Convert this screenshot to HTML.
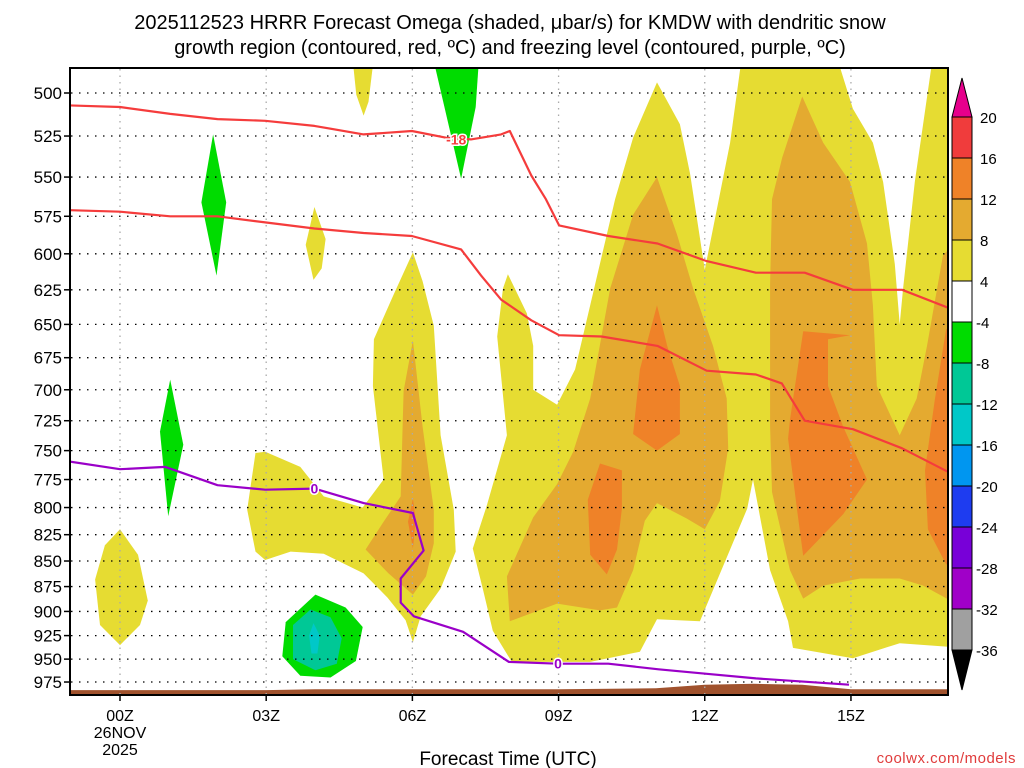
<!DOCTYPE html>
<html><head><meta charset="utf-8">
<style>
html,body{margin:0;padding:0;background:#fff;}
svg{display:block;font-family:"Liberation Sans",sans-serif;}
</style></head>
<body>
<svg id="chart" width="1024" height="768" viewBox="0 0 1024 768" xmlns="http://www.w3.org/2000/svg">
<rect width="1024" height="768" fill="#fff"/>
<text x="510" y="29" font-size="20" text-anchor="middle" fill="#000">2025112523 HRRR Forecast Omega (shaded, μbar/s) for KMDW with dendritic snow</text>
<text x="510" y="54" font-size="20" text-anchor="middle" fill="#000">growth region (contoured, red, ºC) and freezing level (contoured, purple, ºC)</text>
<defs><clipPath id="plotclip"><rect x="70" y="68" width="878" height="627"/></clipPath></defs>
<g id="fills" clip-path="url(#plotclip)"></g>
<g id="grid"></g>
<g id="lines" clip-path="url(#plotclip)"></g>
<rect x="70" y="68" width="878" height="627" fill="none" stroke="#000" stroke-width="2"/>
<g id="axes"></g>
<g id="cbar"></g>
<text x="508" y="765" font-size="19" text-anchor="middle">Forecast Time (UTC)</text>
<text x="1016" y="763" font-size="15" text-anchor="end" fill="#e03c3c" letter-spacing="0.5">coolwx.com/models</text>
</svg>
<script>
// ---- data ----
const xTickHours = [0,3,6,9,12,15];
const xTickLabels = ["00Z","03Z","06Z","09Z","12Z","15Z"];
const yLevels = [500,525,550,575,600,625,650,675,700,725,750,775,800,825,850,875,900,925,950,975];
const cbarLevels = [20,16,12,8,4,-4,-8,-12,-16,-20,-24,-28,-32,-36];
const cbarColors = ["#f03c3c","#ef8228","#e4aa30","#e6dc32","#ffffff","#00dc00","#00c896","#00c8c8","#0096f0","#1e3cf0","#7800d8","#a000c8","#a0a0a0"];
const shadeYellow = [
 [[7.96,614],[8.35,642],[8.48,666],[8.48,700],[8.97,712],[9.34,684],[9.65,636],[10.16,564],[10.53,526],[11.02,494],[11.49,518],[11.70,548],[12.0,611],[12.52,529],[12.76,480],[14.71,480],[15.04,509],[15.45,529],[15.66,553],[15.9,607],[16.0,650],[16.07,624],[16.31,553],[16.68,480],[17.3,480],[17.3,938],[16.0,933],[15.04,949],[13.81,938],[13.71,910],[13.34,859],[12.99,775],[12.87,801],[12.52,839],[11.9,910],[11.02,908],[10.67,942],[9.65,953],[8.04,953],[7.65,920],[7.45,878],[7.24,838],[7.53,798],[7.94,737],[7.74,659],[7.86,624]],
 [[2.61,802],[2.78,752],[2.98,751],[3.70,764],[4.18,790],[4.98,800],[5.41,775],[5.19,697],[5.21,661],[5.62,628],[6.01,599],[6.21,619],[6.44,651],[6.58,737],[6.85,802],[6.89,841],[6.58,877],[6.17,905],[6.01,932],[5.86,909],[5.49,886],[5.00,862],[4.18,843],[3.50,841],[2.98,849],[2.78,841]],
 [[0,820],[0.37,844],[0.57,889],[0.41,914],[0,935],[-0.41,914],[-0.51,868],[-0.31,835]],
 [[4.77,480],[5.21,480],[5.1,505],[5.0,513],[4.85,501]],
 [[3.99,569],[4.22,590],[4.14,610],[3.97,618],[3.81,594]]
];
const shadeLtOrange = [
 [[7.94,865],[8.48,809],[8.97,779],[9.30,751],[9.65,707],[10.06,624],[10.53,574],[11.02,550],[11.43,587],[11.76,624],[12.17,666],[12.45,707],[12.48,748],[12.31,794],[12.0,820],[11.63,810],[11.02,796],[10.77,812],[10.53,859],[10.20,896],[9.85,899],[8.97,892],[8.0,910]],
 [[13.38,564],[13.59,538],[14.0,502],[14.43,529],[14.98,553],[15.33,593],[15.45,636],[15.53,697],[16.0,737],[16.35,707],[16.56,666],[16.89,601],[17.3,587],[17.3,896],[16.48,874],[16.0,867],[15.19,867],[14.43,874],[14.02,887],[13.75,859],[13.38,786],[13.34,730],[13.34,621]],
 [[6.01,662],[6.21,730],[6.44,802],[6.44,833],[6.28,865],[6.01,883],[5.51,862],[5.04,839],[5.41,813],[5.76,790],[5.82,701]]
];
const shadeOrange = [
 [[11.02,636],[11.23,666],[11.49,697],[11.49,736],[11.02,750],[10.53,736],[10.67,684]],
 [[9.85,761],[10.30,767],[10.30,801],[10.20,839],[9.99,863],[9.65,844],[9.60,793]],
 [[14.02,655],[14.98,658],[14.53,661],[14.53,697],[14.84,730],[15.33,775],[14.84,806],[14.02,845],[13.89,801],[13.71,740],[13.75,724]],
 [[17.3,640],[16.95,654],[16.72,708],[16.52,767],[16.58,820],[16.95,853],[17.3,860]],
 [[6.01,792],[6.07,811],[6.01,838],[5.91,813]]
];
const shadeGreen = [
 [[4.01,883],[4.63,896],[4.98,916],[4.84,952],[4.32,970],[3.70,968],[3.33,947],[3.40,911]],
 [[6.42,480],[7.37,480],[7.3,508],[7.0,551]],
 [[1.91,524],[2.18,566],[1.98,615],[1.67,566]],
 [[1.03,692],[1.30,745],[0.99,808],[0.82,734]]
];
const shadeTeal = [[[3.91,898],[4.32,906],[4.55,928],[4.45,955],[4.01,962],[3.55,950],[3.55,914]]];
const shadeCyan = [[[3.97,912],[4.10,925],[4.05,944],[3.93,944],[3.88,925]]];
const dgzUpperHours = [-1.1,0,1.03,2,2.98,3.99,5,5.99,6.69,7.2,7.82,8.0,8.44,8.74,9.01,10.02,11.03,12.04,13.05,14.05,15.04,16.05,17.3];
const dgzUpperP = [507,508,512,515,516,519,524,522,526,527,524,522,549,564,581,588,593,605,613,613,625,625,642];
const dgzLowerHours = [-1.1,0,1.03,2,2.98,3.99,5,5.99,7,7.41,7.82,8.44,9.01,9.88,11.03,12.04,13.05,13.58,14.05,15.04,16.05,17.3];
const dgzLowerP = [571,572,575,575,579,583,586,588,597,615,632,647,658,659,666,685,688,695,725,732,748,775];
const frzHours = [-1.1,0,0.93,2,2.98,3.99,5,6.01,6.23,5.76,5.76,6.03,7.04,7.98,8.99,10.02,11.05,12.04,13.05,14.96];
const frzP = [759,766,764,780,784,783,796,805,840,867,891,905,921,953,955,955,961,966,971,978];
const sfcHours = [-1.1,3,4,9,11,12,13,14,15,17.3];
const sfcP = [984,984,983,983,982,978,977,978,983,983];

// ---- scales ----
const X = h => 120 + h*48.73;
const Y = p => 93 + 882*Math.log(p/500);
const NS = "http://www.w3.org/2000/svg";
function mk(tag, parent){ const e=document.createElementNS(NS,tag); parent.appendChild(e); return e; }

const fills = document.getElementById('fills');
function drawSet(set, color, name){
  set.forEach(poly=>{
    const e = mk('polygon', fills);
    e.setAttribute('points', poly.map(q=>X(q[0]).toFixed(1)+','+Y(q[1]).toFixed(1)).join(' '));
    e.setAttribute('fill', color);
    
    
  });
}
drawSet(shadeYellow, cbarColors[3], 'omega-4-8-region');
drawSet(shadeLtOrange, cbarColors[2], 'omega-8-12-region');
drawSet(shadeOrange, cbarColors[1], 'omega-12-16-region');
drawSet(shadeGreen, cbarColors[5], 'omega-neg4-neg8-region');
drawSet(shadeTeal, cbarColors[6], 'omega-neg8-neg12-region');
drawSet(shadeCyan, cbarColors[7], 'omega-neg12-neg16-region');
// surface
{
  const pts = sfcHours.map((h,i)=>X(h).toFixed(1)+','+Y(sfcP[i]).toFixed(1));
  pts.push(X(17.3)+','+700, X(-1.1)+','+700);
  const e = mk('polygon', fills);
  e.setAttribute('points', pts.join(' '));
  e.setAttribute('fill', '#a0522d');
  
  
}

// grid
const grid = document.getElementById('grid');
yLevels.forEach(p=>{
  const l = mk('line', grid);
  l.setAttribute('x1',71); l.setAttribute('x2',947);
  l.setAttribute('y1',Y(p)); l.setAttribute('y2',Y(p));
  l.setAttribute('stroke','#000'); l.setAttribute('stroke-width','1.3');
  l.setAttribute('stroke-dasharray','1.5,6.5');
  
  
});
xTickHours.forEach(h=>{
  const l = mk('line', grid);
  l.setAttribute('x1',X(h)); l.setAttribute('x2',X(h));
  l.setAttribute('y1',69); l.setAttribute('y2',694);
  l.setAttribute('stroke','#aaa'); l.setAttribute('stroke-width','1.3');
  l.setAttribute('stroke-dasharray','1.5,5');
  
  
});

// lines
const lines = document.getElementById('lines');
function drawLine(hs, ps, color, name){
  const e = mk('polyline', lines);
  e.setAttribute('points', hs.map((h,i)=>X(h).toFixed(1)+','+Y(ps[i]).toFixed(1)).join(' '));
  e.setAttribute('fill','none'); e.setAttribute('stroke',color); e.setAttribute('stroke-width','2.2');
  e.setAttribute('stroke-linejoin','round');
  
  
}
drawLine(dgzUpperHours, dgzUpperP, '#f53c3c', 'dgz-minus18-contour');
drawLine(dgzLowerHours, dgzLowerP, '#f53c3c', 'dgz-minus12-contour');
drawLine(frzHours, frzP, '#9a00c8', 'freezing-level-contour');
function label(h,p,txt,color,name){
  const t = mk('text', lines);
  t.setAttribute('x', X(h)); t.setAttribute('y', Y(p)+5);
  t.setAttribute('text-anchor','middle'); t.setAttribute('font-size','14'); t.setAttribute('font-weight','bold');
  t.setAttribute('fill', color); t.setAttribute('stroke','#fff'); t.setAttribute('stroke-width','3'); t.setAttribute('paint-order','stroke');
  t.textContent = txt;
  
  
}
label(6.9,527,'-18','#f53c3c','dgz-contour-label');
label(3.99,783,'0','#9a00c8','freezing-level-label');
label(8.99,955,'0','#9a00c8','freezing-level-label');

// axes
const axes = document.getElementById('axes');
yLevels.forEach(p=>{
  const t = mk('text', axes);
  t.setAttribute('x', 62); t.setAttribute('y', Y(p)+6);
  t.setAttribute('text-anchor','end'); t.setAttribute('font-size','17');
  t.textContent = String(p);
  
  
  const l = mk('line', axes);
  l.setAttribute('x1',64); l.setAttribute('x2',70); l.setAttribute('y1',Y(p)); l.setAttribute('y2',Y(p));
  l.setAttribute('stroke','#000'); l.setAttribute('stroke-width','1.5');
});
xTickHours.forEach((h,i)=>{
  const l = mk('line', axes);
  l.setAttribute('x1',X(h)); l.setAttribute('x2',X(h)); l.setAttribute('y1',695); l.setAttribute('y2',701);
  l.setAttribute('stroke','#000'); l.setAttribute('stroke-width','1.5');
  const t = mk('text', axes);
  t.setAttribute('x', X(h)); t.setAttribute('y', 721);
  t.setAttribute('text-anchor','middle'); t.setAttribute('font-size','16');
  t.textContent = xTickLabels[i];
  
  
});
['26NOV','2025'].forEach((s,i)=>{
  const t = mk('text', axes);
  t.setAttribute('x', X(0)); t.setAttribute('y', 738+i*17);
  t.setAttribute('text-anchor','middle'); t.setAttribute('font-size','16');
  t.textContent = s;
  
  
});

// colorbar
const cb = document.getElementById('cbar');
const cbTop = 117, cbStep = 41, cbX = 952, cbW = 20;
cbarColors.forEach((c,i)=>{
  const r = mk('rect', cb);
  r.setAttribute('x',cbX); r.setAttribute('y',cbTop+i*cbStep); r.setAttribute('width',cbW); r.setAttribute('height',cbStep);
  r.setAttribute('fill',c); r.setAttribute('stroke','#000'); r.setAttribute('stroke-width','1');
  
  
});
{
  const tTop = mk('polygon', cb);
  tTop.setAttribute('points', `${cbX},${cbTop} ${cbX+cbW},${cbTop} ${cbX+cbW/2},78`);
  tTop.setAttribute('fill','#e6008c'); tTop.setAttribute('stroke','#000');
  
  
  const yb = cbTop+cbarColors.length*cbStep;
  const tBot = mk('polygon', cb);
  tBot.setAttribute('points', `${cbX},${yb} ${cbX+cbW},${yb} ${cbX+cbW/2},${yb+40}`);
  tBot.setAttribute('fill','#000'); tBot.setAttribute('stroke','#000');
  
  
}
cbarLevels.forEach((v,i)=>{
  const t = mk('text', cb);
  t.setAttribute('x', v<0?976:980); t.setAttribute('y', cbTop+i*cbStep+6);
  t.setAttribute('font-size','15');
  t.textContent = String(v);
  
  
});
</script>
</body></html>
